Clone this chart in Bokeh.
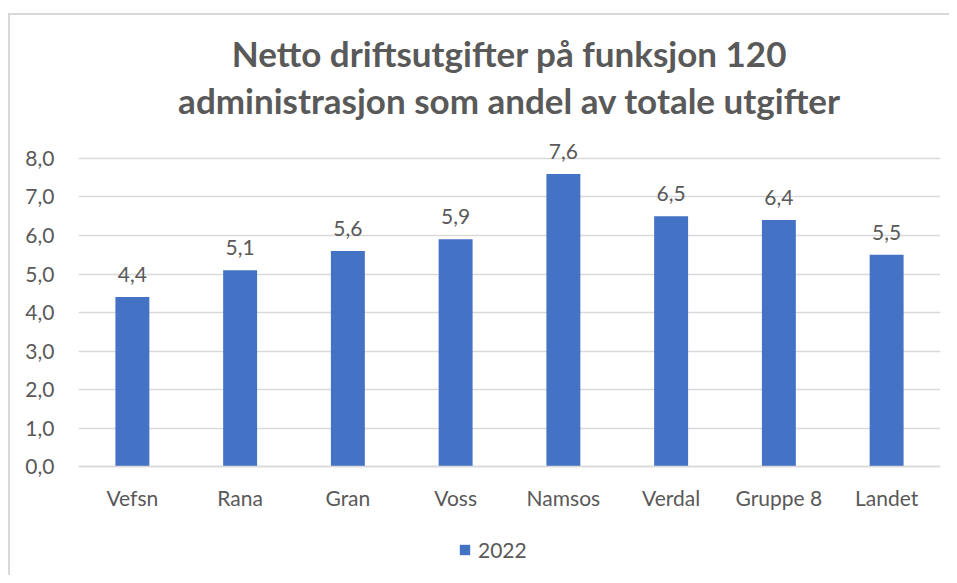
from bokeh.plotting import figure
from bokeh.models import ColumnDataSource, Range1d, Legend, LegendItem, FixedTicker, Title
from bokeh.core.properties import value
from bokeh.embed import file_html
from bokeh.resources import INLINE

categories = ["Vefsn", "Rana", "Gran", "Voss", "Namsos", "Verdal", "Gruppe 8", "Landet"]
values_2022 = [4.4, 5.1, 5.6, 5.9, 7.6, 6.5, 6.4, 5.5]
series_name = "2022"
y_ticks = [0, 1, 2, 3, 4, 5, 6, 7, 8]
y_tick_labels = ["0,0", "1,0", "2,0", "3,0", "4,0", "5,0", "6,0", "7,0", "8,0"]
title_lines = ["Netto driftsutgifter på funksjon 120",
               "administrasjon som andel av totale utgifter"]

FONT = "Lato"
GRAY = "#595959"
BLUE = "#4472C4"
LINE = "#d9d9d9"

labels = [f"{v:.1f}".replace(".", ",") for v in values_2022]
src = ColumnDataSource(dict(cat=categories, val=values_2022, lab=labels))

# frame extends above 8 and below 0 so value labels, category labels and legend sit inside it
p = figure(x_range=categories, y_range=Range1d(-2.83, 8.727),
           width=949, height=575, output_backend="svg", toolbar_location=None,
           min_border_left=78, min_border_right=9, min_border_top=130, min_border_bottom=0)
p.outline_line_color = None
p.border_fill_color = None
p.styles = {
    "background-image": f"linear-gradient({LINE},{LINE}), linear-gradient({LINE},{LINE})",
    "background-size": "2px 100%, 100% 2px",
    "background-position": "8px 13px, 8px 13px",
    "background-repeat": "no-repeat",
}

for i, line in enumerate(reversed(title_lines)):
    t = Title(text=line, align="center", text_font=FONT, text_font_size="35px",
              text_font_style="bold", text_color=GRAY, offset=-18,
              standoff=20 if i == 0 else -14)
    p.add_layout(t, "above")

r = p.vbar(x="cat", top="val", width=0.315, source=src, fill_color=BLUE, line_color=None)
p.text(x="cat", y="val", text="lab", source=src, text_align="center", text_baseline="bottom",
       y_offset=-15, text_font=value(FONT), text_font_size="21px", text_color=GRAY)

p.yaxis.ticker = FixedTicker(ticks=y_ticks)
p.yaxis.major_label_overrides = {t: l for t, l in zip(y_ticks, y_tick_labels)}
p.yaxis.axis_line_color = None
p.yaxis.major_tick_line_color = None
p.yaxis.minor_tick_line_color = None
p.yaxis.major_label_text_font = FONT
p.yaxis.major_label_text_font_size = "21px"
p.yaxis.major_label_text_color = GRAY
p.yaxis.major_label_standoff = 18

p.xaxis.fixed_location = 0
p.xaxis.axis_line_color = LINE
p.xaxis.axis_line_width = 1.5
p.xaxis.major_tick_line_color = None
p.xaxis.minor_tick_line_color = None
p.xaxis.major_label_text_font = FONT
p.xaxis.major_label_text_font_size = "21px"
p.xaxis.major_label_text_color = GRAY
p.xaxis.major_label_standoff = 12

p.xgrid.grid_line_color = None
p.ygrid.ticker = FixedTicker(ticks=y_ticks)
p.ygrid.grid_line_color = LINE
p.ygrid.grid_line_width = 1.5
p.x_range.range_padding = 0.0

legend = Legend(items=[LegendItem(label=series_name, renderers=[r])],
                orientation="horizontal", location=(380, 13),
                label_text_font=FONT, label_text_font_size="21px", label_text_color=GRAY,
                glyph_width=13, glyph_height=13, label_standoff=7,
                border_line_color=None, background_fill_alpha=0, margin=0, padding=0)
p.add_layout(legend)

open("out.html", "w").write(file_html(p, INLINE))
